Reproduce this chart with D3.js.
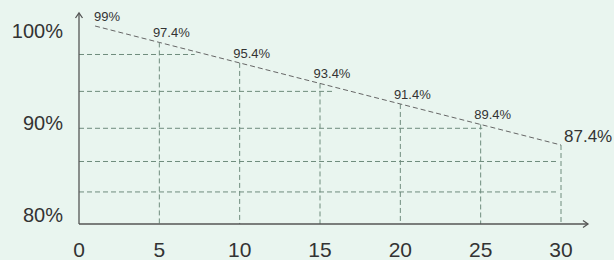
<!DOCTYPE html>
<html>
<head>
<meta charset="utf-8">
<script src="https://cdn.jsdelivr.net/npm/d3@7"></script>
<style>
  html, body { margin: 0; padding: 0; background: #e9f5ef; }
  svg { display: block; }
  text { font-family: "Liberation Sans", Arial, sans-serif; fill: #333; }
</style>
</head>
<body>
<div id="chart"></div>
<script>
// efficiency vs. time (schematic)
const years = [1, 5, 10, 15, 20, 25, 30];
const efficiency = [99, 97.4, 95.4, 93.4, 91.4, 89.4, 87.4];
const xTicks = [0, 5, 10, 15, 20, 25, 30];
const yTicks = [80, 90, 100];
// horizontal dashed guides: level and how far right they run
const guideLevels = [97.4, 93.4, 89.4, 85.8, 82.5];
const guideEnds = [7.2, 15.8, 25.1, 29.8, 29.8];

const W = 614, H = 260;
const left = 79, bottom = 224; // axis origin

const svg = d3.select("#chart").append("svg")
  .attr("width", W)
  .attr("height", H);

const x = d3.scaleLinear().domain([0, 30]).range([left, 561]);
// scale for the percentage axis and guides
const y = d3.scaleLinear().domain([80, 100]).range([215, 30.5]);
// the drawn curve sits on its own (steeper) scale in the original artwork
const yCurve = d3.scaleLinear().domain([87.4, 99]).range([145, 26]);

const gridColor = "#6f8c7d";

// horizontal guides
svg.append("g")
  .selectAll("line")
  .data(guideLevels)
  .join("line")
  .attr("x1", left)
  .attr("x2", (d, i) => x(guideEnds[i]))
  .attr("y1", d => y(d))
  .attr("y2", d => y(d))
  .attr("stroke", gridColor)
  .attr("stroke-width", 1)
  .attr("stroke-dasharray", "5,3");

// vertical guides from the curve down to the axis
svg.append("g")
  .selectAll("line")
  .data(years.slice(1))
  .join("line")
  .attr("x1", d => x(d))
  .attr("x2", d => x(d))
  .attr("y1", (d, i) => yCurve(efficiency[i + 1]))
  .attr("y2", bottom)
  .attr("stroke", gridColor)
  .attr("stroke-width", 1)
  .attr("stroke-dasharray", "5,3");

// efficiency curve
const line = d3.line()
  .x((d, i) => x(years[i]))
  .y(d => yCurve(d));

svg.append("path")
  .datum(efficiency)
  .attr("d", line)
  .attr("fill", "none")
  .attr("stroke", "#666")
  .attr("stroke-width", 1)
  .attr("stroke-dasharray", "5,3");

// point labels
const last = efficiency.length - 1;
svg.append("g")
  .selectAll("text")
  .data(efficiency)
  .join("text")
  .attr("x", (d, i) => i === last ? x(years[i]) + 3 : x(years[i]) + 12)
  .attr("y", (d, i) => i === last ? yCurve(d) - 3 : yCurve(d) - 5)
  .attr("text-anchor", (d, i) => i === last ? "start" : "middle")
  .attr("font-size", (d, i) => i === last ? 17 : 13)
  .text(d => d + "%");

// axes with arrow heads
const axis = svg.append("g")
  .attr("stroke", "#555")
  .attr("stroke-width", 1.3)
  .attr("fill", "none");

axis.append("path").attr("d", `M${left},${bottom}V13`);
axis.append("path").attr("d", `M${left - 3.5},18L${left},13L${left + 3.5},18`);
axis.append("path").attr("d", `M${left},${bottom}H588`);
axis.append("path").attr("d", `M583,${bottom - 3.5}L588,${bottom}L583,${bottom + 3.5}`);

// tick labels
svg.append("g")
  .selectAll("text")
  .data(xTicks)
  .join("text")
  .attr("x", d => x(d))
  .attr("y", 257)
  .attr("text-anchor", "middle")
  .attr("font-size", 21)
  .text(d => d);

svg.append("g")
  .selectAll("text")
  .data(yTicks)
  .join("text")
  .attr("x", 63)
  .attr("y", d => y(d))
  .attr("dy", "0.36em")
  .attr("text-anchor", "end")
  .attr("font-size", 20)
  .text(d => d + "%");
</script>
</body>
</html>
